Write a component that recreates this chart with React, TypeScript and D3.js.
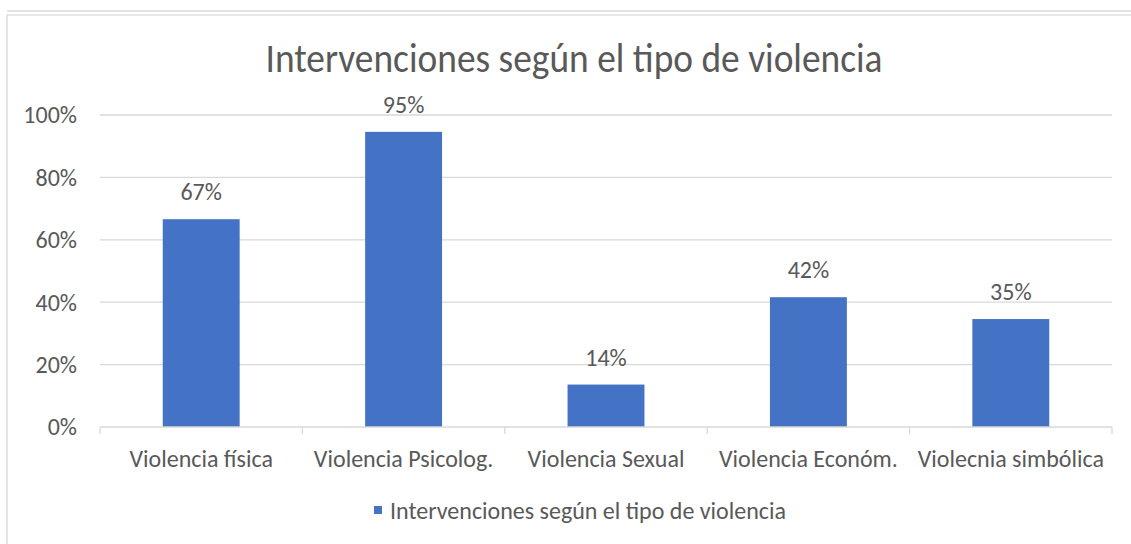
import React from 'react';
import * as d3 from 'd3';

const categories = ['Violencia física', 'Violencia Psicolog.', 'Violencia Sexual', 'Violencia Económ.', 'Violecnia simbólica'];
const values = [0.666, 0.946, 0.136, 0.416, 0.346];
const yTicks = [0, 0.2, 0.4, 0.6, 0.8, 1.0];
const title = 'Intervenciones según el tipo de violencia';
const seriesName = 'Intervenciones según el tipo de violencia';

const W = 1131;
const H = 544;
const margin = { top: 115, left: 100, right: 19, bottom: 117 };
const FONT = 'Carlito, Calibri, "Liberation Sans", Arial, sans-serif';
const TEXT = '#595959';
const GRID = '#d9d9d9';
const BLUE = '#4472c4';

export default function App() {
  const x = d3.scaleBand<string>()
    .domain(categories)
    .range([margin.left, W - margin.right])
    .paddingInner(0.62)
    .paddingOuter(0.31);
  const y = d3.scaleLinear()
    .domain([0, 1])
    .range([H - margin.bottom, margin.top]);
  const pct = d3.format('.0%');
  const step = x.step();
  const bounds = categories.map((c) => (x(c) as number) - step * 0.31);

  return (
    <svg width={W} height={H} style={{ position: 'absolute', left: 0, top: 0, background: '#fff' }}>
      {/* chart frame */}
      <line x1={7} x2={W} y1={11} y2={11} stroke={GRID} strokeWidth={1.3} />
      <rect x={7} y={15} width={W + 10} height={H + 10} fill="none" stroke={GRID} strokeWidth={1.3} />

      <text x={574} y={72} textAnchor="middle" fontFamily={FONT} fontSize={40} fill={TEXT} textLength={617} lengthAdjust="spacingAndGlyphs">{title}</text>

      {/* gridlines */}
      {yTicks.slice(1).map((t) => (
        <line key={t} x1={margin.left} x2={W - margin.right} y1={y(t)} y2={y(t)} stroke={GRID} strokeWidth={1.3} />
      ))}
      {yTicks.map((t) => (
        <text key={'l' + t} x={77} y={y(t)} dy="0.35em" textAnchor="end" fontFamily={FONT} fontSize={24} fill={TEXT}>{pct(t)}</text>
      ))}

      {/* bars */}
      {categories.map((c, i) => (
        <g key={c}>
          <rect x={x(c)} y={y(values[i])} width={x.bandwidth()} height={y(0) - y(values[i])} fill={BLUE} />
          <text x={(x(c) as number) + x.bandwidth() / 2} y={y(values[i]) - 19} textAnchor="middle" fontFamily={FONT} fontSize={24} fill={TEXT}>{pct(values[i])}</text>
          <text x={(x(c) as number) + x.bandwidth() / 2} y={467} textAnchor="middle" fontFamily={FONT} fontSize={24} fill={TEXT}>{c}</text>
        </g>
      ))}

      {/* x axis */}
      <line x1={margin.left} x2={W - margin.right} y1={y(0)} y2={y(0)} stroke={GRID} strokeWidth={1.3} />
      {[...bounds, W - margin.right].map((bx, i) => (
        <line key={'t' + i} x1={bx} x2={bx} y1={y(0)} y2={y(0) + 7} stroke={GRID} strokeWidth={1.3} />
      ))}

      {/* legend */}
      <rect x={374} y={506} width={8} height={8} fill={BLUE} />
      <text x={390} y={519} fontFamily={FONT} fontSize={24} fill={TEXT}>{seriesName}</text>
    </svg>
  );
}
